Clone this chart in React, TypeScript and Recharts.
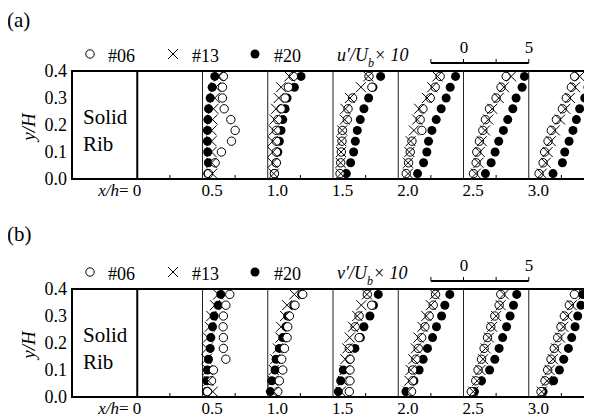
import { ScatterChart, Scatter, XAxis, YAxis, ReferenceLine, ReferenceArea } from 'recharts';

const FONT = "'Liberation Serif', 'DejaVu Serif', 'Noto Serif', Tinos, FreeSerif, 'Nimbus Roman', 'Times New Roman', Times, serif";

// measuring stations (x/h) and measurement heights (y/H), bottom to top
const STATIONS = [0.5, 1.0, 1.5, 2.0, 2.5, 3.0];
const Y_LEVELS = [0.02, 0.06, 0.1, 0.14, 0.18, 0.22, 0.26, 0.3, 0.34, 0.38];

const X_TICKS = [0, 0.25, 0.5, 0.75, 1, 1.25, 1.5, 1.75, 2, 2.25, 2.5, 2.75, 3, 3.25];
const Y_TICKS = [0, 0.1, 0.2, 0.3, 0.4];
const Y_MINOR_TICKS = [0.05, 0.1, 0.15, 0.2, 0.25, 0.3, 0.35];

// 5 units of (value x 10) span 0.5 x/h
const PROFILE_SCALE = 0.1;

// u'/Ub x 10, one row per station, values bottom to top
const U_06 = [
  [0.46, 0.97, 1.45, 2.22, 2.5, 2.17, 1.66, 1.53, 1.53, 1.6],
  [0.51, 0.66, 0.66, 0.66, 0.66, 0.77, 1.02, 1.33, 1.58, 1.96],
  [0.54, 0.59, 0.64, 0.69, 0.72, 1.1, 1.15, 1.5, 2.98, 2.76],
  [0.61, 0.79, 0.92, 1.05, 1.81, 1.68, 1.89, 2.45, 2.83, 3.21],
  [0.77, 0.97, 1.02, 1.22, 1.48, 1.68, 1.99, 2.5, 2.88, 3.27],
  [0.79, 1.1, 1.22, 1.48, 1.73, 2.12, 2.58, 2.88, 3.27, 3.52],
];
const U_13 = [
  [0.75, 0.7, 0.69, 0.69, 0.7, 0.77, 0.84, 0.94, 1.02, 1.25],
  [0.46, 0.38, 0.38, 0.38, 0.46, 0.51, 0.64, 0.84, 1.02, 1.66],
  [0.6, 0.58, 0.62, 0.64, 0.7, 0.9, 0.95, 1.3, 2.14, 2.7],
  [0.75, 0.75, 0.85, 0.95, 1.2, 1.45, 1.6, 2.2, 2.6, 3.0],
  [0.95, 1.15, 1.25, 1.4, 1.65, 1.9, 2.2, 2.7, 3.1, 3.65],
  [1.0, 1.3, 1.45, 1.7, 2.0, 2.4, 2.8, 3.15, 3.55, 3.9],
];
const U_20 = [
  [0.4, 0.45, 0.4, 0.38, 0.38, 0.41, 0.46, 0.59, 0.74, 0.94],
  [0.51, 0.64, 0.77, 0.89, 1.02, 1.15, 1.33, 1.48, 2.04, 2.55],
  [1.02, 1.35, 1.58, 1.71, 1.86, 2.09, 2.37, 2.73, 3.06, 3.65],
  [1.48, 1.94, 2.19, 2.32, 2.58, 2.91, 3.29, 3.67, 3.98, 4.39],
  [1.68, 2.12, 2.42, 2.7, 3.06, 3.39, 3.78, 4.03, 4.49, 4.67],
  [1.86, 2.58, 2.76, 3.09, 3.39, 3.65, 3.9, 4.29, 4.54, 4.8],
];

// v'/Ub x 10
const V_06 = [
  [0.38, 0.69, 0.84, 1.79, 1.6, 1.6, 1.58, 1.6, 1.79, 2.09],
  [0.77, 0.89, 1.15, 1.07, 1.28, 1.48, 1.53, 1.66, 2.09, 2.68],
  [1.25, 1.3, 1.3, 1.3, 1.25, 2.0, 1.7, 2.0, 2.96, 2.63],
  [1.02, 1.1, 1.1, 1.35, 1.53, 1.79, 2.04, 2.37, 2.68, 2.86],
  [0.6, 0.94, 1.12, 1.38, 1.58, 1.84, 2.09, 2.4, 2.73, 2.86],
  [0.94, 1.25, 1.45, 1.71, 1.96, 2.22, 2.47, 2.73, 3.11, 3.5],
];
const V_13 = [
  [0.79, 0.45, 0.4, 0.3, 0.35, 0.42, 0.55, 0.68, 0.95, 1.2],
  [0.46, 0.38, 0.46, 0.56, 0.77, 0.97, 1.02, 1.33, 1.48, 2.04],
  [0.6, 0.75, 0.89, 0.94, 1.1, 1.28, 1.53, 1.86, 2.17, 2.6],
  [0.75, 0.85, 0.95, 1.15, 1.35, 1.55, 1.85, 2.15, 2.5, 2.8],
  [0.75, 1.05, 1.3, 1.5, 1.7, 1.95, 2.2, 2.5, 2.85, 3.1],
  [1.0, 1.4, 1.6, 1.85, 2.1, 2.4, 2.65, 2.95, 3.3, 4.2],
];
const V_20 = [
  [0.3, 0.33, 0.38, 0.46, 0.59, 0.64, 0.77, 0.89, 1.2, 1.4],
  [0.2, 0.31, 0.56, 0.64, 0.89, 1.15, 1.4, 1.53, 2.0, 2.6],
  [0.41, 0.59, 0.79, 1.3, 1.68, 2.1, 2.37, 2.83, 3.1, 3.47],
  [0.59, 1.2, 1.6, 1.91, 2.24, 2.63, 2.93, 3.32, 3.57, 3.95],
  [0.84, 1.38, 2.0, 2.4, 2.73, 3.0, 3.3, 3.57, 3.83, 4.08],
  [1.1, 1.91, 2.35, 2.68, 3.04, 3.29, 3.55, 3.75, 4.0, 4.13],
];

// scale bar above the plot: from -2.5 to 5 units
const SCALE_Y = 0.4296;
const SCALE_TICK_Y = 0.4444;
const SCALE_TICKS = [2.25, 2.5, 2.75, 3.0];

const toPoints = (vals: number[][]) =>
  STATIONS.flatMap((s, i) => Y_LEVELS.map((y, j) => ({ x: s + vals[i][j] * PROFILE_SCALE, y })));

const OpenDot = (p: any) => <circle cx={p.cx} cy={p.cy} r={4.2} fill="#fff" stroke="#000" strokeWidth={1} />;
const FilledDot = (p: any) => <circle cx={p.cx} cy={p.cy} r={4.5} fill="#000" />;
const Cross = (p: any) => (
  <g stroke="#000" strokeWidth={1}>
    <line x1={p.cx - 5} y1={p.cy - 5} x2={p.cx + 5} y2={p.cy + 5} />
    <line x1={p.cx - 5} y1={p.cy + 5} x2={p.cx + 5} y2={p.cy - 5} />
  </g>
);

const isMajor = (v: number) => Math.abs(v * 2 - Math.round(v * 2)) < 1e-6;

const BottomTick = ({ x, y, payload }: any) => {
  const v = payload.value;
  if (v === 0) {
    return (
      <text x={x + 4} y={y + 17} textAnchor="end" style={{ fontFamily: FONT }} fontSize={17}>
        <tspan fontStyle="italic">x/h</tspan>= 0
      </text>
    );
  }
  if (isMajor(v)) {
    return (
      <text x={x - 1} y={y + 17} style={{ fontFamily: FONT }} fontSize={17}>
        {v.toFixed(1)}
      </text>
    );
  }
  return <line x1={x} x2={x} y1={y} y2={y - 4} stroke="#000" />;
};

const TopTick = ({ x, y, payload }: any) =>
  isMajor(payload.value) ? <g /> : <line x1={x} x2={x} y1={y} y2={y + 4} stroke="#000" />;

const LeftTick = ({ x, y, payload }: any) => (
  <text x={x - 5} y={y} dy="0.35em" textAnchor="end" style={{ fontFamily: FONT }} fontSize={18}>
    {payload.value.toFixed(1)}
  </text>
);

const RightTick = ({ x, y }: any) => <line x1={x} x2={x - 4} y1={y} y2={y} stroke="#000" />;

interface PanelProps {
  tag: string;
  tagY: number;
  sym: string;
  d06: number[][];
  d13: number[][];
  d20: number[][];
}

function Panel({ tag, tagY, sym, d06, d13, d20 }: PanelProps) {
  return (
    <div style={{ position: 'relative', width: 600, height: 219 }}>
      <ScatterChart width={600} height={219} margin={{ top: 63, right: 14, bottom: 18, left: 24 }}>
        <XAxis
          type="number"
          dataKey="x"
          domain={[-0.5, 3.5]}
          allowDataOverflow
          ticks={X_TICKS}
          interval={0}
          height={30}
          tickSize={0}
          tickMargin={0}
          tickLine={false}
          axisLine={false}
          tick={<BottomTick />}
        />
        <XAxis
          xAxisId="t"
          orientation="top"
          type="number"
          domain={[-0.5, 3.5]}
          ticks={X_TICKS}
          interval={0}
          height={0}
          tickSize={0}
          tickMargin={0}
          tickLine={false}
          axisLine={false}
          tick={<TopTick />}
        />
        <YAxis
          type="number"
          dataKey="y"
          domain={[0, 0.4]}
          ticks={Y_TICKS}
          interval={0}
          width={40}
          tickSize={0}
          tickMargin={0}
          tickLine={false}
          axisLine={false}
          tick={<LeftTick />}
        />
        <YAxis
          yAxisId="r"
          orientation="right"
          type="number"
          domain={[0, 0.4]}
          ticks={Y_MINOR_TICKS}
          interval={0}
          width={0}
          tickSize={0}
          tickMargin={0}
          tickLine={false}
          axisLine={false}
          tick={<RightTick />}
        />
        {STATIONS.map((s) => (
          <ReferenceLine key={s} x={s} stroke="#222" strokeWidth={1} />
        ))}
        <ReferenceLine x={0} stroke="#000" strokeWidth={2} />
        <ReferenceLine
          segment={[{ x: SCALE_TICKS[0], y: SCALE_Y }, { x: SCALE_TICKS[3], y: SCALE_Y }]}
          ifOverflow="visible"
          stroke="#000"
          strokeWidth={2}
        />
        {SCALE_TICKS.map((t) => (
          <ReferenceLine
            key={'st' + t}
            segment={[{ x: t, y: SCALE_Y }, { x: t, y: SCALE_TICK_Y }]}
            ifOverflow="visible"
            stroke="#000"
            strokeWidth={1}
          />
        ))}
        <Scatter data={toPoints(d20)} shape={FilledDot} isAnimationActive={false} />
        <Scatter data={toPoints(d06)} shape={OpenDot} isAnimationActive={false} />
        <Scatter data={toPoints(d13)} shape={Cross} isAnimationActive={false} />
        <ReferenceArea
          x1={-0.5}
          x2={3.5}
          y1={0}
          y2={0.4}
          fill="none"
          fillOpacity={0}
          stroke="#000"
          strokeWidth={2}
          ifOverflow="visible"
        />
      </ScatterChart>
      <svg
        width={600}
        height={219}
        style={{ position: 'absolute', left: 0, top: 0, pointerEvents: 'none', overflow: 'visible', fontFamily: FONT }}
      >
        <text x={-1} y={tagY} fontSize={21}>
          {tag}
        </text>
        <circle cx={82} cy={46} r={4.2} fill="#fff" stroke="#000" />
        <text x={100} y={54} fontSize={18}>#06</text>
        <g stroke="#000">
          <line x1={160} y1={41} x2={170} y2={51} />
          <line x1={160} y1={51} x2={170} y2={41} />
        </g>
        <text x={184} y={54} fontSize={18}>#13</text>
        <circle cx={247} cy={46} r={4.5} fill="#000" />
        <text x={266} y={54} fontSize={18}>#20</text>
        <text x={329} y={53} fontSize={18} fontStyle="italic">
          {sym}′/U
          <tspan dy={6} fontSize={12}>b</tspan>
          <tspan dy={-6}>× 10</tspan>
        </text>
        <text x={456} y={45} fontSize={17} textAnchor="middle">0</text>
        <text x={521} y={45} fontSize={17} textAnchor="middle">5</text>
        <text x={20} y={119} fontSize={19} fontStyle="italic" textAnchor="middle" dy="0.35em" transform="rotate(-90 20 119)">
          y/H
        </text>
        <text x={75} y={116} fontSize={21}>Solid</text>
        <text x={75} y={143} fontSize={21}>Rib</text>
      </svg>
    </div>
  );
}

export default function App() {
  return (
    <div style={{ position: 'relative', width: 584, height: 409, overflow: 'hidden', background: '#fff' }}>
      <div style={{ position: 'absolute', left: 0, top: 0 }}>
        <Panel tag="(a)" tagY={19} sym="u" d06={U_06} d13={U_13} d20={U_20} />
      </div>
      <div style={{ position: 'absolute', left: 0, top: 218 }}>
        <Panel tag="(b)" tagY={15} sym="v" d06={V_06} d13={V_13} d20={V_20} />
      </div>
    </div>
  );
}
